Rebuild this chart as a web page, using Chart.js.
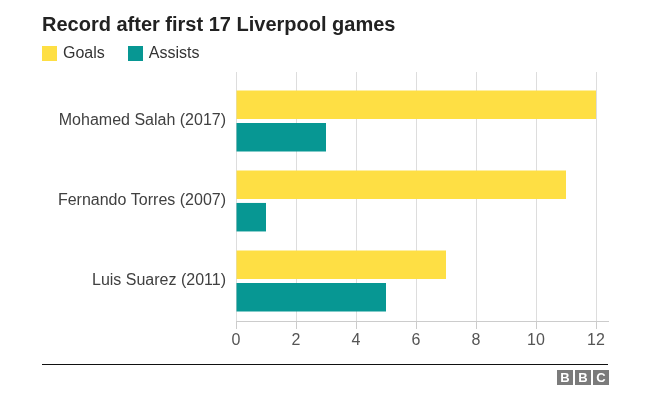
<!DOCTYPE html>
<html>
<head>
<meta charset="utf-8">
<script src="https://cdn.jsdelivr.net/npm/chart.js@4"></script>
<style>
  body { margin: 0; background: #fff; font-family: "Liberation Sans", Arial, sans-serif; }
  #wrap { position: relative; width: 662px; height: 397px; }
  #chart { position: absolute; left: 0; top: 0; }
  #title { position: absolute; left: 42px; top: 13px; font-size: 20px; font-weight: bold; color: #222; }
  #legend { position: absolute; left: 42px; top: 44px; font-size: 16px; color: #333; display: flex; }
  #legend .item { display: flex; align-items: center; margin-right: 23px; }
  #legend .box { width: 15px; height: 15px; margin-right: 6px; }
  #rule { position: absolute; left: 42px; top: 364px; width: 566px; height: 0; border-top: 1.5px solid #111; }
  #bbc { position: absolute; left: 555px; top: 370px; display: flex; }
  #bbc span { width: 16px; height: 15px; margin-left: 2px; background: #7b7b7b; color: #fff; font-weight: bold; font-size: 13px; line-height: 15px; text-align: center; }
</style>
</head>
<body>
<div id="wrap">
  <canvas id="chart" width="662" height="397"></canvas>
  <div id="title">Record after first 17 Liverpool games</div>
  <div id="legend"></div>
  <div id="rule"></div>
  <div id="bbc"><span>B</span><span>B</span><span>C</span></div>
</div>
<script>
// data
const players = ["Mohamed Salah (2017)", "Fernando Torres (2007)", "Luis Suarez (2011)"];
const goals = [12, 11, 7];
const assists = [3, 1, 5];
const xTicks = [0, 2, 4, 6, 8, 10, 12];

const seriesNames = ["Goals", "Assists"];
const seriesColors = ["#fedf44", "#079793"];

// html legend
const legend = document.getElementById("legend");
seriesNames.forEach((name, i) => {
  const item = document.createElement("div");
  item.className = "item";
  item.innerHTML = '<div class="box" style="background:' + seriesColors[i] + '"></div>' + name;
  legend.appendChild(item);
});

// gridlines poke out above the plot a little
const gridTop = {
  id: "gridTop",
  beforeDatasetsDraw(chart) {
    const ctx = chart.ctx;
    const x = chart.scales.x;
    const top = chart.chartArea.top;
    ctx.save();
    ctx.strokeStyle = "#dddddd";
    ctx.lineWidth = 1;
    xTicks.forEach(v => {
      const px = Math.round(x.getPixelForValue(v)) + 0.5;
      ctx.beginPath();
      ctx.moveTo(px, top - 9);
      ctx.lineTo(px, top);
      ctx.stroke();
    });
    ctx.restore();
  }
};

new Chart(document.getElementById("chart"), {
  type: "bar",
  data: {
    labels: players,
    datasets: [
      { label: seriesNames[0], data: goals, backgroundColor: seriesColors[0] },
      { label: seriesNames[1], data: assists, backgroundColor: seriesColors[1] }
    ]
  },
  options: {
    indexAxis: "y",
    responsive: false,
    animation: false,
    categoryPercentage: 0.81,
    barPercentage: 0.88,
    layout: { padding: { top: 81, right: 54, bottom: 46, left: 0 } },
    plugins: {
      legend: { display: false },
      tooltip: { enabled: false }
    },
    scales: {
      x: {
        min: 0,
        max: 12.4,
        afterFit: (scale) => { scale.height = 30; },
        afterBuildTicks: (scale) => { scale.ticks = xTicks.map(v => ({ value: v })); },
        grid: { color: "#dddddd", tickLength: 8, tickColor: "#cccccc" },
        border: { color: "#cccccc" },
        ticks: {
          padding: 2,
          color: "#555",
          font: { family: "Liberation Sans", size: 16 }
        }
      },
      y: {
        afterFit: (scale) => { scale.width = 236; },
        grid: { display: false, drawTicks: false },
        border: { display: false },
        ticks: {
          padding: 10,
          color: "#404040",
          font: { family: "Liberation Sans", size: 16 }
        }
      }
    }
  },
  plugins: [gridTop]
});
</script>
</body>
</html>
